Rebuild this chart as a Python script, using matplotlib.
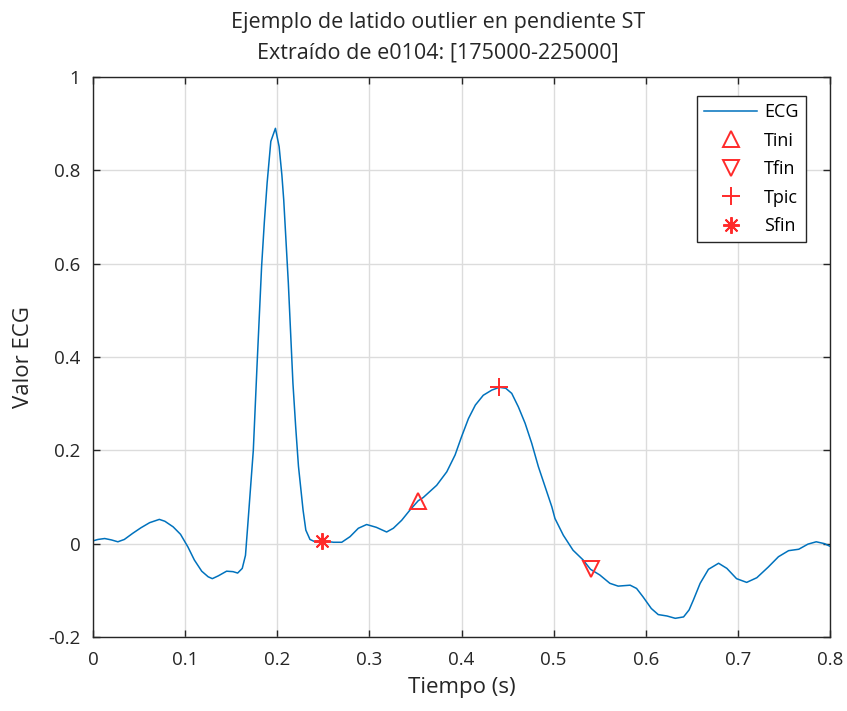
import numpy as np
import matplotlib.pyplot as plt

# ECG trace (time in s, value)
t = [0.000, 0.0054, 0.0127, 0.020, 0.027, 0.034, 0.043, 0.052, 0.0615, 0.072, 0.078,
     0.087, 0.095, 0.103, 0.110, 0.118, 0.125, 0.1295, 0.136, 0.145, 0.152, 0.157,
     0.162, 0.1655, 0.168, 0.174, 0.178, 0.183, 0.186, 0.189, 0.193, 0.198,
     0.202, 0.205, 0.207, 0.212, 0.217, 0.220, 0.223, 0.228, 0.231, 0.2355,
     0.241, 0.2488, 0.261, 0.270, 0.279, 0.288, 0.297, 0.3075, 0.3187, 0.326, 0.335,
     0.344, 0.353, 0.3585, 0.373, 0.384, 0.393, 0.400, 0.4075, 0.415, 0.4236, 0.4328,
     0.441, 0.448, 0.4545, 0.4617, 0.469, 0.4762, 0.4834, 0.4907, 0.498, 0.5014, 0.5105,
     0.521, 0.532, 0.540, 0.550, 0.561, 0.570, 0.583, 0.590, 0.597, 0.606, 0.6135,
     0.623, 0.632, 0.641, 0.647, 0.6516, 0.659, 0.668, 0.679, 0.688, 0.6985, 0.7095,
     0.7205, 0.733, 0.744, 0.755, 0.766, 0.776, 0.785, 0.794, 0.8013]
ecg = [0.006, 0.009, 0.011, 0.008, 0.004, 0.009, 0.022, 0.034, 0.045, 0.052, 0.048,
       0.036, 0.020, -0.007, -0.035, -0.059, -0.071, -0.075, -0.069, -0.059, -0.060, -0.063,
       -0.053, -0.025, 0.040, 0.200, 0.380, 0.594, 0.690, 0.773, 0.862, 0.890,
       0.851, 0.790, 0.737, 0.559, 0.344, 0.250, 0.166, 0.072, 0.029, 0.009,
       0.004, 0.006, 0.003, 0.003, 0.015, 0.033, 0.041, 0.035, 0.025, 0.033, 0.050,
       0.072, 0.092, 0.099, 0.125, 0.154, 0.190, 0.229, 0.268, 0.297, 0.318, 0.329,
       0.335, 0.333, 0.322, 0.293, 0.258, 0.215, 0.165, 0.122, 0.079, 0.054, 0.018,
       -0.014, -0.035, -0.055, -0.067, -0.085, -0.091, -0.089, -0.096, -0.114, -0.139, -0.152,
       -0.155, -0.160, -0.157, -0.142, -0.121, -0.085, -0.055, -0.042, -0.053, -0.075, -0.083,
       -0.073, -0.050, -0.028, -0.015, -0.012, -0.001, 0.004, 0.000, -0.007]

# fiducial points
tini = (0.353, 0.091)
tfin = (0.540, -0.055)
tpic = (0.441, 0.335)
sfin = (0.2488, 0.006)

plt.rcParams['font.family'] = ['Open Sans', 'DejaVu Sans']

fig = plt.figure(figsize=(8.47, 7.11), dpi=100)
ax = fig.add_axes([0.1098, 0.1041, 0.8702, 0.7876])

red = '#ff2a2a'
ax.plot(t, ecg, color='#0072BD', lw=1.1, label='ECG')
ax.plot(*tini, '^', color=red, ms=11, mfc='none', mew=1.4, label='Tini')
ax.plot(*tfin, 'v', color=red, ms=11, mfc='none', mew=1.4, label='Tfin')
ax.plot(*tpic, '+', color=red, ms=13, mew=1.4, label='Tpic')
ax.plot(*sfin, marker=(8, 2, 0), ls='none', color=red, ms=12, mew=1.4, label='Sfin')

ax.set_xlim(0, 0.8)
ax.set_ylim(-0.2, 1)
ax.set_xticks(np.arange(0, 0.81, 0.1))
ax.set_xticklabels(['0', '0.1', '0.2', '0.3', '0.4', '0.5', '0.6', '0.7', '0.8'])
ax.set_yticks(np.arange(-0.2, 1.01, 0.2))
ax.set_yticklabels(['-0.2', '0', '0.2', '0.4', '0.6', '0.8', '1'])
ax.grid(True, color='#dcdcdc', lw=1)
ax.set_axisbelow(True)
ax.tick_params(direction='in', length=5, width=1, labelsize=13.5, colors='#262626',
               top=True, right=True)
ax.tick_params(axis='x', pad=10)
ax.tick_params(axis='y', pad=9)
for s in ax.spines.values():
    s.set_color('#262626')
    s.set_linewidth(1)

ax.set_xlabel('Tiempo (s)', fontsize=16, color='#262626', labelpad=6)
ax.set_ylabel('Valor ECG', fontsize=16, color='#262626', labelpad=10)
ax.text(0.468, 1.024, 'Ejemplo de latido outlier en pendiente ST\nExtraído de e0104: [175000-225000]',
        transform=ax.transAxes, ha='center', va='bottom', fontsize=15.5, color='#262626',
        linespacing=1.6)

leg = ax.legend(loc='upper right', bbox_to_anchor=(0.967, 0.966), fontsize=13,
                fancybox=False, framealpha=1, edgecolor='#262626', handlelength=2.9,
                labelspacing=0.58, borderpad=0.4, handletextpad=0.4, borderaxespad=0)
leg.get_frame().set_linewidth(1)

fig.savefig('out.png', dpi=100)
